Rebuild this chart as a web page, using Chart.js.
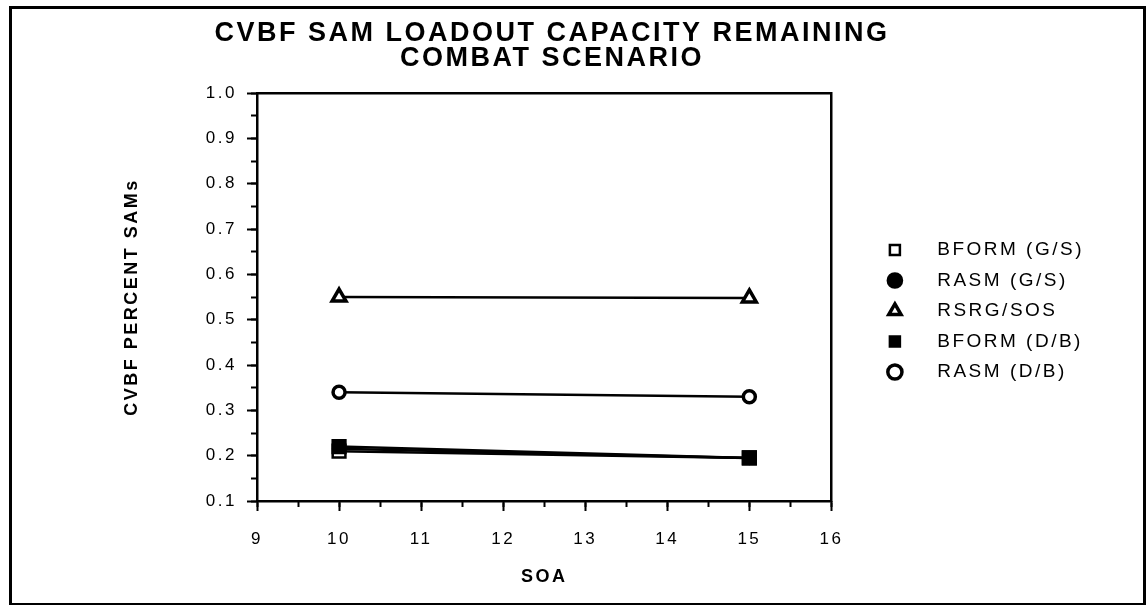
<!DOCTYPE html>
<html>
<head>
<meta charset="utf-8">
<script src="https://cdn.jsdelivr.net/npm/chart.js@4"></script>
<style>
  body { margin: 0; background: #fff; }
  #wrap { position: relative; width: 1146px; height: 605px; }
  #frame { position: absolute; left: 9px; top: 6px; width: 1131px; height: 594px; border: 3px solid #000; pointer-events: none; }
</style>
</head>
<body>
<div id="wrap">
  <canvas id="samChart" width="1146" height="605"></canvas>
  <div id="frame"></div>
</div>
<script>
// данные с графика
const soa = [10, 15];
const bformGS = [0.21, 0.195];
const rasmGS = [0.215, 0.195];
const rsrgSOS = [0.55, 0.548];
const bformDB = [0.22, 0.195];
const rasmDB = [0.34, 0.33];
const seriesNames = ['BFORM (G/S)', 'RASM (G/S)', 'RSRG/SOS', 'BFORM (D/B)', 'RASM (D/B)'];
const titleLines = ['CVBF SAM LOADOUT CAPACITY REMAINING', 'COMBAT SCENARIO'];

const FONT = "'Liberation Sans', Arial, Helvetica, sans-serif";
const pad = { top: 17, right: 50, bottom: 0, left: 10 };

function series(label, values, style, fill, radius, bw, order) {
    return {
        label: label,
        data: soa.map((x, i) => ({ x: x, y: values[i] })),
        xAxisID: 'x',
        yAxisID: 'y',
        order: order || 0,
        borderColor: '#000',
        borderWidth: 2.5,
        tension: 0,
        pointStyle: style,
        pointRadius: radius,
        pointBackgroundColor: fill,
        pointBorderColor: '#000',
        pointBorderWidth: bw
    };
}

// шрифт в оригинале широкий, добавим межбуквенный интервал
const spacing = {
    id: 'spacing',
    beforeUpdate(chart) { chart.ctx.letterSpacing = '2.5px'; },
    beforeDraw(chart) { chart.ctx.letterSpacing = '2.5px'; }
};

const tickGrid = (len) => ({
    drawOnChartArea: false,
    drawTicks: true,
    tickLength: len,
    tickWidth: 2,
    tickColor: '#000'
});

const ctx = document.getElementById('samChart').getContext('2d');
const chart = new Chart(ctx, {
    type: 'line',
    data: {
        datasets: [
            series(seriesNames[0], bformGS, 'rect', '#fff', 9, 2.5),
            series(seriesNames[1], rasmGS, 'circle', '#000', 6, 2.5),
            series(seriesNames[2], rsrgSOS, 'triangle', '#fff', 8, 3.5),
            // закрашенный квадрат рисуем поверх
            series(seriesNames[3], bformDB, 'rect', '#000', 9, 2.5, -1),
            series(seriesNames[4], rasmDB, 'circle', '#fff', 6, 3.5)
        ]
    },
    options: {
        responsive: false,
        animation: false,
        layout: { padding: pad },
        plugins: {
            tooltip: { enabled: false },
            title: {
                display: true,
                text: titleLines,
                color: '#000',
                font: { family: FONT, size: 27, weight: 'bold', lineHeight: 0.926 },
                padding: { top: 4, bottom: 22 }
            },
            legend: {
                position: 'right',
                maxWidth: 320,
                labels: {
                    usePointStyle: true,
                    boxHeight: 10,
                    padding: 11.5,
                    color: '#000',
                    font: { family: FONT, size: 19 },
                    sort: (a, b) => a.datasetIndex - b.datasetIndex,
                    generateLabels: (c) => Chart.defaults.plugins.legend.labels.generateLabels(c)
                        .map(item => ({ ...item, text: '   ' + item.text }))
                }
            }
        },
        scales: {
            x: {
                type: 'linear',
                position: 'bottom',
                min: 9,
                max: 16,
                ticks: { stepSize: 1, padding: 18, color: '#000', font: { family: FONT, size: 17 } },
                grid: tickGrid(10),
                border: { display: true, color: '#000', width: 2.5 },
                title: {
                    display: true,
                    text: 'SOA',
                    color: '#000',
                    font: { family: FONT, size: 18, weight: 'bold' },
                    padding: { top: 0, bottom: 17 }
                },
                afterFit: (s) => { s.height = 104; }
            },
            xMinor: {
                type: 'linear',
                axis: 'x',
                position: 'bottom',
                weight: -1,
                min: 9,
                max: 16,
                ticks: { stepSize: 0.5, display: false },
                grid: tickGrid(6),
                border: { display: false },
                afterFit: (s) => { s.height = 0; }
            },
            xTop: {
                type: 'linear',
                axis: 'x',
                position: 'top',
                min: 9,
                max: 16,
                ticks: { display: false },
                grid: { display: false },
                border: { display: true, color: '#000', width: 2.5 },
                afterFit: (s) => { s.height = 0; }
            },
            y: {
                type: 'linear',
                position: 'left',
                min: 0.1,
                max: 1.0,
                ticks: {
                    stepSize: 0.1,
                    padding: 10,
                    color: '#000',
                    font: { family: FONT, size: 17 },
                    callback: (v) => v.toFixed(1)
                },
                grid: tickGrid(10),
                border: { display: true, color: '#000', width: 2.5 },
                title: {
                    display: true,
                    text: 'CVBF PERCENT SAMs',
                    color: '#000',
                    font: { family: FONT, size: 18, weight: 'bold' },
                    padding: { top: 111, bottom: 0 }
                },
                afterFit: (s) => { s.width = 247; }
            },
            yMinor: {
                type: 'linear',
                axis: 'y',
                position: 'left',
                weight: -1,
                min: 0.1,
                max: 1.0,
                ticks: { stepSize: 0.05, display: false },
                grid: tickGrid(6),
                border: { display: false },
                afterFit: (s) => { s.width = 0; }
            },
            yRight: {
                type: 'linear',
                axis: 'y',
                position: 'right',
                min: 0.1,
                max: 1.0,
                ticks: { display: false },
                grid: { display: false },
                border: { display: true, color: '#000', width: 2.5 },
                afterFit: (s) => { s.width = 42.5; }
            }
        }
    },
    plugins: [spacing]
});

// ставим легенду так, чтобы её левый край был у x=873
pad.right = Math.max(0, Math.round(chart.width - 873.5 - chart.legend.width));
chart.update();
</script>
</body>
</html>
